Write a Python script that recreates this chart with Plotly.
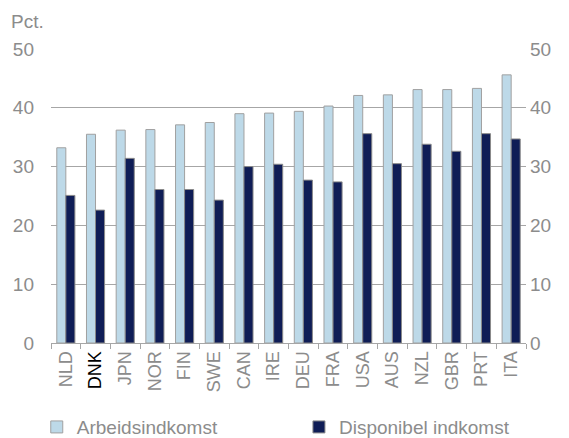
import plotly.graph_objects as go

countries = ['NLD', 'DNK', 'JPN', 'NOR', 'FIN', 'SWE', 'CAN', 'IRE',
             'DEU', 'FRA', 'USA', 'AUS', 'NZL', 'GBR', 'PRT', 'ITA']
arbeidsindkomst = [33.2, 35.5, 36.2, 36.3, 37.1, 37.5, 39.0, 39.1,
                   39.4, 40.3, 42.1, 42.2, 43.1, 43.1, 43.3, 45.6]
disponibel = [25.1, 22.6, 31.4, 26.1, 26.1, 24.3, 30.0, 30.4,
              27.7, 27.4, 35.6, 30.5, 33.8, 32.6, 35.6, 34.7]
tick_labels = [f"<span style='color:#000000'>{c}</span>" if c == 'DNK' else c
               for c in countries]

GREY = '#8c8c8c'
FONT = 'Liberation Sans, Arial, sans-serif'

fig = go.Figure()
fig.add_trace(go.Bar(
    x=countries, y=arbeidsindkomst, name='Arbeidsindkomst', legend='legend',
    marker=dict(color='#bdd9e8', line=dict(color='#a0a0a0', width=1))
))
fig.add_trace(go.Bar(
    x=countries, y=disponibel, name='Disponibel indkomst', legend='legend2',
    marker=dict(color='#0f1d56', line=dict(color='#8a8a8a', width=1))
))
# invisible trace so the right-hand axis is drawn
fig.add_trace(go.Scatter(
    x=countries, y=disponibel, yaxis='y2', mode='lines',
    line=dict(width=0), showlegend=False, hoverinfo='skip'
))

legend_style = dict(orientation='h', yanchor='middle', y=-0.286, xanchor='left',
                    font=dict(size=19, color=GREY), itemwidth=30,
                    bgcolor='rgba(0,0,0,0)')

# page body has an 8px margin, so the figure is 8px smaller than the window
fig.update_layout(
    width=561, height=430,
    margin=dict(l=43, r=43, t=41, b=95, autoexpand=False),
    paper_bgcolor='white', plot_bgcolor='white',
    barmode='group', bargap=0.39, bargroupgap=0,
    font=dict(family=FONT, size=19, color=GREY),
    showlegend=True,
    legend=dict(x=-0.03, **legend_style),
    legend2=dict(x=0.522, **legend_style),
    xaxis=dict(tickmode='array', tickvals=countries, ticktext=tick_labels,
               range=[-0.5, len(countries) - 0.5],
               tickangle=-90, tickfont=dict(size=18, color=GREY),
               showline=True, linecolor='#a6a6a6', linewidth=1,
               ticks='outside', tickson='boundaries', ticklen=5, tickcolor='#a6a6a6',
               showgrid=False, automargin=False),
    yaxis=dict(range=[0, 50], tickvals=[0, 10, 20, 30, 40, 50],
               showgrid=True, gridcolor='#a6a6a6', gridwidth=1,
               zeroline=False, ticks='', tickfont=dict(size=19, color=GREY),
               ticklabelstandoff=16, automargin=False),
    yaxis2=dict(range=[0, 50], tickvals=[0, 10, 20, 30, 40, 50],
                overlaying='y', side='right', showgrid=False, zeroline=False,
                ticks='', tickfont=dict(size=19, color=GREY),
                ticklabelstandoff=3, automargin=False),
    annotations=[dict(text='Pct.', xref='paper', yref='paper', x=-0.088, y=1.095,
                      xanchor='left', yanchor='middle', showarrow=False,
                      font=dict(size=19, color=GREY))]
)

fig.write_html("out.html")
